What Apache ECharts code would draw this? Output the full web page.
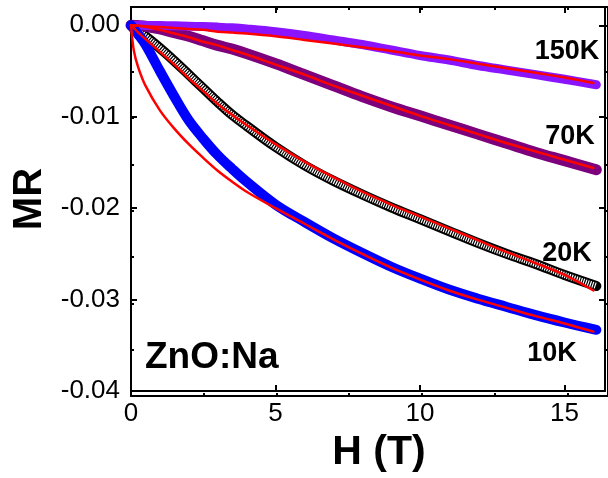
<!DOCTYPE html>
<html>
<head>
<meta charset="utf-8">
<script src="https://cdn.jsdelivr.net/npm/echarts@6/dist/echarts.min.js"></script>
<style>
html, body { margin: 0; padding: 0; background: #fff; }
#chart { width: 608px; height: 478px; }
</style>
</head>
<body>
<div id="chart"></div>
<script>
// field values (T) for measured curves and for the fits
var fieldH = [0, 0.25, 0.5, 1, 1.5, 2, 2.5, 3, 3.5, 4, 5, 6, 7, 8, 9, 10, 11, 12, 13, 14, 15, 16.1]
var fitH   = [0, 0.1, 0.25, 0.5, 1, 1.5, 2, 2.5, 3, 3.5, 4, 5, 6, 7, 8, 9, 10, 11, 12, 13, 14, 15, 16]

// measured MR
var mr10K  = [0, -0.0010, -0.0021, -0.0050, -0.0078, -0.0104, -0.0124, -0.0142, -0.0157, -0.0171, -0.0196, -0.0215, -0.0233, -0.0249, -0.0264, -0.0277, -0.0289, -0.0299, -0.0308, -0.0317, -0.0325, -0.0333]
var mr20K  = [0, -0.0006, -0.0012, -0.0025, -0.0039, -0.0054, -0.0069, -0.0084, -0.0098, -0.0110, -0.0133, -0.0153, -0.0170, -0.0185, -0.0199, -0.0212, -0.0225, -0.0238, -0.0250, -0.0261, -0.0273, -0.0285]
var mr70K  = [0, -0.00003, -0.0001, -0.0004, -0.0008, -0.0012, -0.0017, -0.0022, -0.0026, -0.0031, -0.0042, -0.0054, -0.0066, -0.0078, -0.0089, -0.0099, -0.0109, -0.0119, -0.0129, -0.0139, -0.0148, -0.0158]
var mr150K = [0, 0, -0.00001, -0.00003, -0.00006, -0.0001, -0.00014, -0.0002, -0.00028, -0.0004, -0.0007, -0.0011, -0.0016, -0.0021, -0.0027, -0.0033, -0.0038, -0.0044, -0.0049, -0.0054, -0.0059, -0.0065]

// fitted MR (red lines)
var fit10K  = [0, -0.0028, -0.0046, -0.0066, -0.0093, -0.0113, -0.0130, -0.0145, -0.0159, -0.0171, -0.0182, -0.0200, -0.0217, -0.0234, -0.0250, -0.0265, -0.0278, -0.0290, -0.0300, -0.0309, -0.0318, -0.0326, -0.0335]
var fit20K  = [0, -0.0003, -0.0008, -0.0015, -0.0029, -0.0043, -0.0058, -0.0072, -0.0086, -0.0098, -0.0109, -0.0130, -0.0149, -0.0166, -0.0182, -0.0196, -0.0209, -0.0222, -0.0235, -0.0248, -0.0260, -0.0273, -0.0290]
var fit70K  = [0, -0.00001, -0.00005, -0.00015, -0.0005, -0.0009, -0.0013, -0.0018, -0.0022, -0.0027, -0.0032, -0.0043, -0.0054, -0.0066, -0.0077, -0.0088, -0.0099, -0.0109, -0.0119, -0.0129, -0.0138, -0.0147, -0.0156]
var fit150K = [0, -0.00002, -0.00004, -0.0001, -0.0002, -0.0003, -0.0004, -0.0005, -0.0007, -0.0008, -0.0009, -0.0012, -0.0016, -0.0020, -0.0024, -0.0028, -0.0033, -0.0037, -0.0042, -0.0047, -0.0052, -0.0057, -0.0063]

var xTicks = [0, 5, 10, 15]
var yTicks = [-0.04, -0.03, -0.02, -0.01, 0.00]

var FONT = 'Liberation Sans, Arial, Helvetica, sans-serif'

function pairs(xs, ys) {
    return xs.map(function (x, i) { return [x, ys[i]] })
}

function band(data, color, width, extra) {
    var s = {
        type: 'line',
        data: data,
        symbol: 'none',
        smooth: 0.35,
        lineStyle: { color: color, width: width, cap: 'round', join: 'round' },
        z: 2
    }
    if (extra) Object.assign(s.lineStyle, extra)
    return s
}

function frameAxis(pos, gridIndex, interval, tickLen, min, max) {
    return {
        type: 'value',
        gridIndex: gridIndex,
        position: pos,
        min: min,
        max: max,
        interval: interval,
        splitLine: { show: false },
        axisLine: { show: true, onZero: false, lineStyle: { color: '#000', width: 2 } },
        axisTick: { show: true, inside: true, length: tickLen, lineStyle: { color: '#000', width: 2 } },
        axisLabel: { show: false }
    }
}

var chart = echarts.init(document.getElementById('chart'))

var xMain = frameAxis('bottom', 0, 5, 6, 0, 16.4)
xMain.axisLabel = {
    show: true, margin: 10, color: '#000', fontSize: 26, fontFamily: FONT,
    formatter: function (v) { return xTicks.indexOf(v) >= 0 ? String(v) : '' }
}
xMain.name = 'H (T)'
xMain.nameLocation = 'middle'
xMain.nameGap = 36
xMain.nameTextStyle = { fontSize: 41, fontWeight: 'bold', color: '#000', fontFamily: FONT, padding: [0, 0, 0, 22] }

var yMain = frameAxis('left', 0, 0.01, 6, -0.04, 0.002)
yMain.axisLabel = {
    show: true, margin: 11, color: '#000', fontSize: 26, fontFamily: FONT,
    formatter: function (v) {
        for (var i = 0; i < yTicks.length; i++) {
            if (Math.abs(v - yTicks[i]) < 1e-9) return yTicks[i].toFixed(2)
        }
        return ''
    }
}
yMain.name = 'MR'
yMain.nameLocation = 'middle'
yMain.nameGap = 81
yMain.nameTextStyle = { fontSize: 40, fontWeight: 'bold', color: '#000', fontFamily: FONT }

var gridRect = { left: 131, top: 7, right: -4, bottom: 82 }

chart.setOption({
    animation: false,
    backgroundColor: '#fff',
    grid: [
        Object.assign({ show: false }, gridRect),
        Object.assign({ show: false }, gridRect)
    ],
    xAxis: [
        xMain,
        frameAxis('top', 0, 5, 6, 0, 16.4),
        frameAxis('bottom', 1, 2.5, 3, 0, 16.4),
        frameAxis('top', 1, 2.5, 3, 0, 16.4)
    ],
    yAxis: [
        yMain,
        frameAxis('right', 0, 0.01, 6, -0.04, 0.002),
        frameAxis('left', 1, 0.005, 3, -0.04, 0.002),
        frameAxis('right', 1, 0.005, 3, -0.04, 0.002)
    ],
    series: [
        band(pairs(fieldH, mr20K), '#000', 10),
        band(pairs(fieldH, mr20K), '#fff', 6, { type: [1.2, 1.2], cap: 'butt' }),
        band(pairs(fieldH, mr70K), '#7d007d', 11),
        band(pairs(fieldH, mr150K), '#8a14ff', 9),
        band(pairs(fieldH, mr10K), '#0000ff', 10),
        band(pairs(fitH, fit150K), '#ff0000', 2.5),
        band(pairs(fitH, fit70K), '#ff0000', 2.5),
        band(pairs(fitH, fit20K), '#ff0000', 2.5),
        band(pairs(fitH, fit10K), '#ff0000', 2.5)
    ],
    graphic: [
        { type: 'text', x: 567, y: 52, style: { text: '150K', fill: '#000', font: 'bold 27px ' + FONT, align: 'center', verticalAlign: 'middle' } },
        { type: 'text', x: 570, y: 137, style: { text: '70K', fill: '#000', font: 'bold 27px ' + FONT, align: 'center', verticalAlign: 'middle' } },
        { type: 'text', x: 567, y: 254, style: { text: '20K', fill: '#000', font: 'bold 27px ' + FONT, align: 'center', verticalAlign: 'middle' } },
        { type: 'text', x: 552, y: 354, style: { text: '10K', fill: '#000', font: 'bold 27px ' + FONT, align: 'center', verticalAlign: 'middle' } },
        { type: 'text', x: 145, y: 358, style: { text: 'ZnO:Na', fill: '#000', font: 'bold 37px ' + FONT, align: 'left', verticalAlign: 'middle' } }
    ]
})
</script>
</body>
</html>
